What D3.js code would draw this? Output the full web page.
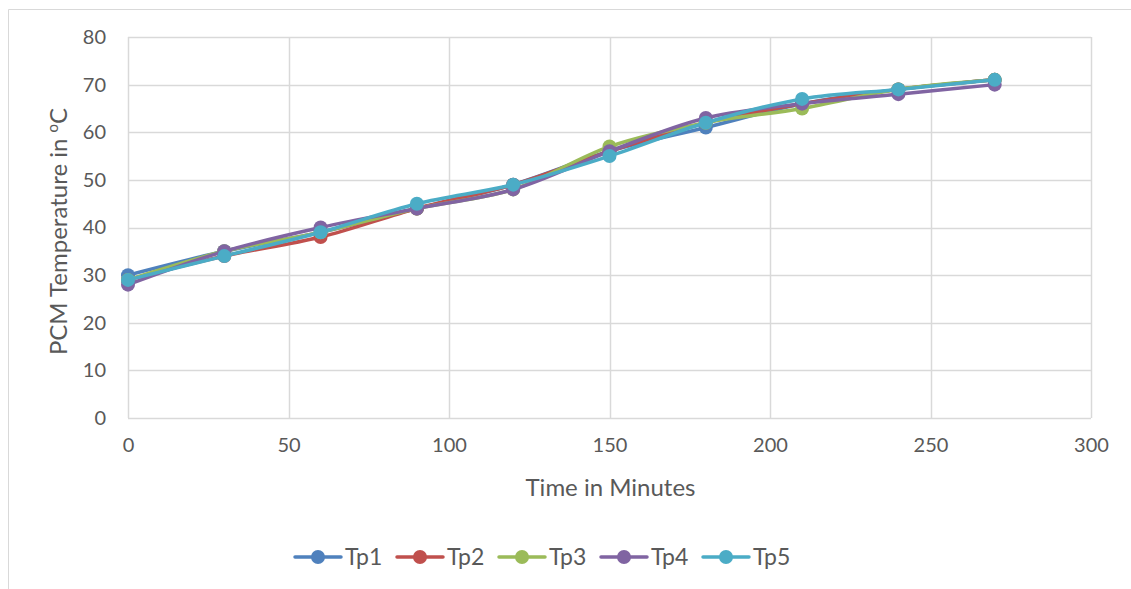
<!DOCTYPE html>
<html>
<head>
<meta charset="utf-8">
<script src="https://cdn.jsdelivr.net/npm/d3@7"></script>
<style>
  html, body { margin: 0; padding: 0; background: #fff; }
  svg { display: block; font-family: Lato, "Open Sans", sans-serif; }
</style>
</head>
<body>
<svg id="chart" width="1131" height="589"></svg>
<script>
// Time points (minutes)
const minutes = [0, 30, 60, 90, 120, 150, 180, 210, 240, 270];

// PCM temperature readings (°C) at each probe
const tp1 = [30, 35, 39, 44, 49, 56, 61, 66, 69, 71];
const tp2 = [29, 34, 38, 44, 49, 56, 62, 66, 69, 71];
const tp3 = [29, 35, 39, 44, 48, 57, 62, 65, 69, 71];
const tp4 = [28, 35, 40, 44, 48, 56, 63, 66, 68, 70];
const tp5 = [29, 34, 39, 45, 49, 55, 62, 67, 69, 71];

const seriesNames = ["Tp1", "Tp2", "Tp3", "Tp4", "Tp5"];
const seriesColors = ["#4f81bd", "#c0504d", "#9bbb59", "#8064a2", "#4bacc6"];

const xTicks = [0, 50, 100, 150, 200, 250, 300];
const yTicks = [0, 10, 20, 30, 40, 50, 60, 70, 80];

const series = [tp1, tp2, tp3, tp4, tp5].map((vals, i) => ({
  name: seriesNames[i],
  color: seriesColors[i],
  points: vals.map((v, j) => ({ t: minutes[j], v }))
}));

const svg = d3.select("#chart");
const textColor = "#595959";
const gridColor = "#d9d9d9";
const font = "Lato, 'Open Sans', sans-serif";

// Outer chart frame (top and left edges)
svg.append("path")
  .attr("d", "M8.5,589 V9.5 H1131")
  .attr("fill", "none")
  .attr("stroke", gridColor)
  .attr("stroke-width", 1);

const plot = { left: 128, right: 1091, top: 37, bottom: 418 };

const x = d3.scaleLinear().domain([0, 300]).range([plot.left, plot.right]);
const y = d3.scaleLinear().domain([0, 80]).range([plot.bottom, plot.top]);

// Gridlines
const grid = svg.append("g");
grid.selectAll("line.h").data(yTicks).join("line")
  .attr("x1", plot.left).attr("x2", plot.right)
  .attr("y1", d => Math.round(y(d)) + 0.5).attr("y2", d => Math.round(y(d)) + 0.5)
  .attr("stroke", gridColor).attr("stroke-width", 1.5);
grid.selectAll("line.v").data(xTicks).join("line")
  .attr("y1", plot.top).attr("y2", plot.bottom)
  .attr("x1", d => Math.round(x(d)) + 0.5).attr("x2", d => Math.round(x(d)) + 0.5)
  .attr("stroke", gridColor).attr("stroke-width", 1.5);

// Axes (labels only; lines come from the grid)
const xAxis = svg.append("g")
  .attr("transform", `translate(0,${plot.bottom})`)
  .call(d3.axisBottom(x).tickValues(xTicks).tickSize(0).tickPadding(20));
const yAxis = svg.append("g")
  .attr("transform", `translate(${plot.left},0)`)
  .call(d3.axisLeft(y).tickValues(yTicks).tickSize(0).tickPadding(22));
[xAxis, yAxis].forEach(a => {
  a.select(".domain").remove();
  a.selectAll("text")
    .attr("fill", textColor)
    .style("font-size", "20px")
    .style("font-family", font);
});

// Axis titles
svg.append("text")
  .attr("x", (plot.left + plot.right) / 2 + 1)
  .attr("y", 496)
  .attr("text-anchor", "middle")
  .attr("fill", textColor)
  .style("font-size", "24px")
  .text("Time in Minutes");

const yTitle = svg.append("text")
  .attr("transform", `translate(67,${(plot.top + plot.bottom) / 2 + 4}) rotate(-90)`)
  .attr("text-anchor", "middle")
  .attr("fill", textColor)
  .style("font-size", "24px");
yTitle.append("tspan").text("PCM Temperature in ");
yTitle.append("tspan").attr("dy", -9).style("font-size", "15px").text("o");
yTitle.append("tspan").attr("dy", 9).text("C");

// Smoothed series lines
const line = d3.line()
  .x(d => x(d.t))
  .y(d => y(d.v))
  .curve(d3.curveCatmullRom.alpha(0.5));

const layers = svg.append("g");
series.forEach(s => {
  const g = layers.append("g");
  g.append("path")
    .attr("d", line(s.points))
    .attr("fill", "none")
    .attr("stroke", s.color)
    .attr("stroke-width", 3.5)
    .attr("stroke-linejoin", "round")
    .attr("stroke-linecap", "round");
  g.selectAll("circle").data(s.points).join("circle")
    .attr("cx", d => x(d.t))
    .attr("cy", d => y(d.v))
    .attr("r", 7)
    .attr("fill", s.color);
});

// Legend
const legendX = [295, 397, 499, 601, 703];
const legendY = 557;
const legend = svg.append("g");
series.forEach((s, i) => {
  const g = legend.append("g").attr("transform", `translate(${legendX[i]},${legendY})`);
  g.append("line")
    .attr("x1", 0).attr("x2", 46).attr("y1", 0).attr("y2", 0)
    .attr("stroke", s.color).attr("stroke-width", 3.5)
    .attr("stroke-linecap", "round");
  g.append("circle").attr("cx", 23).attr("cy", 0).attr("r", 7).attr("fill", s.color);
  g.append("text")
    .attr("x", 50).attr("y", 0).attr("dy", "0.35em")
    .attr("fill", textColor)
    .style("font-size", "23px")
    .text(s.name);
});
</script>
</body>
</html>
